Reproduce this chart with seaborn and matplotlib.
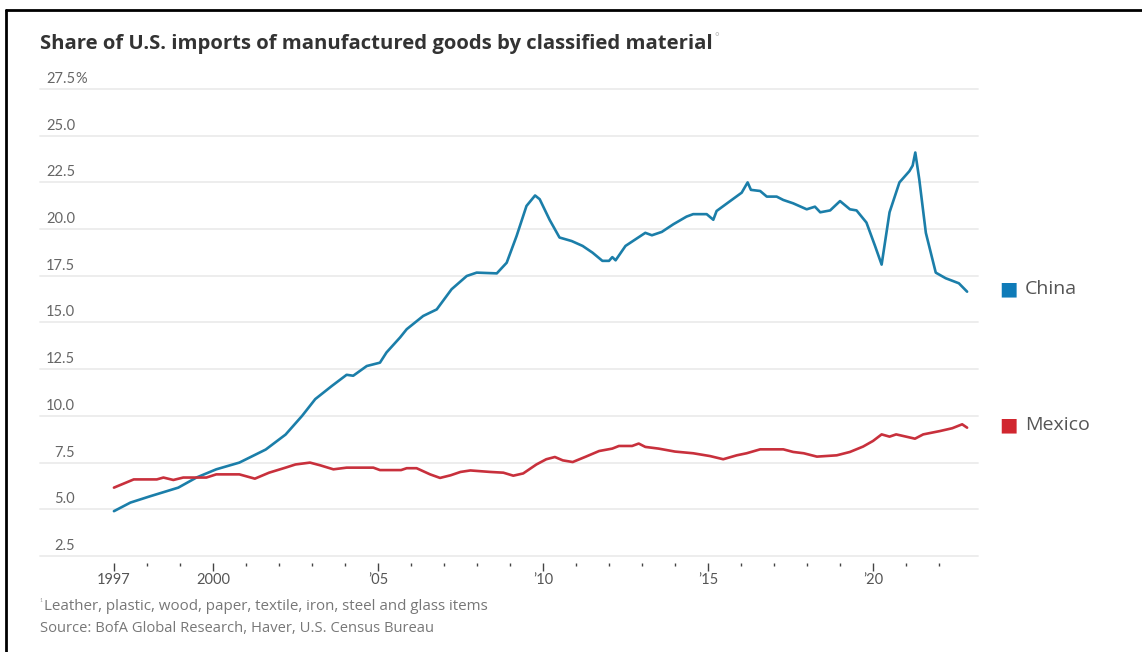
import numpy as np
import pandas as pd
import matplotlib
matplotlib.use("Agg")
import matplotlib.pyplot as plt
import matplotlib.transforms as mtransforms
from matplotlib.lines import Line2D
import seaborn as sns

# ---------------- data ----------------
china_year = [1997.0, 1997.5, 1998.1, 1998.95, 1999.5, 2000.1, 2000.8, 2001.6, 2002.2, 2002.7,
              2003.1, 2003.6, 2004.05, 2004.25, 2004.66, 2005.06, 2005.26, 2005.67, 2005.87, 2006.37,
              2006.78, 2007.23, 2007.69, 2007.99, 2008.6, 2008.9, 2009.2, 2009.5, 2009.76, 2009.9,
              2010.2, 2010.5, 2010.87, 2011.2, 2011.5, 2011.8, 2012.0, 2012.1, 2012.2, 2012.5,
              2012.8, 2013.1, 2013.3, 2013.6, 2013.95, 2014.35, 2014.55, 2014.96, 2015.16, 2015.26,
              2015.67, 2016.02, 2016.2, 2016.3, 2016.58, 2016.78, 2017.08, 2017.28, 2017.58, 2017.99,
              2018.24, 2018.4, 2018.7, 2019.0, 2019.3, 2019.5, 2019.8, 2020.06, 2020.26, 2020.5,
              2020.8, 2021.1, 2021.2, 2021.28, 2021.4, 2021.6, 2021.9, 2022.2, 2022.6, 2022.85]
china_share = [4.9, 5.36, 5.7, 6.16, 6.7, 7.14, 7.5, 8.2, 9.0, 10.0,
               10.9, 11.6, 12.2, 12.15, 12.67, 12.85, 13.4, 14.2, 14.64, 15.35,
               15.7, 16.78, 17.49, 17.67, 17.63, 18.2, 19.63, 21.24, 21.8, 21.6,
               20.5, 19.55, 19.36, 19.1, 18.74, 18.3, 18.3, 18.5, 18.33, 19.1,
               19.45, 19.8, 19.67, 19.85, 20.26, 20.67, 20.8, 20.8, 20.5, 20.97,
               21.5, 21.95, 22.5, 22.1, 22.04, 21.74, 21.74, 21.56, 21.38, 21.06,
               21.2, 20.9, 21.0, 21.5, 21.06, 21.0, 20.35, 19.1, 18.1, 20.9,
               22.5, 23.1, 23.4, 24.1, 22.67, 19.8, 17.67, 17.37, 17.1, 16.65]

mexico_year = [1997.0, 1997.6, 1998.3, 1998.5, 1998.8, 1999.1, 1999.8, 2000.1, 2000.8, 2001.27,
               2001.7, 2002.2, 2002.5, 2002.94, 2003.24, 2003.65, 2004.05, 2004.86, 2005.06, 2005.7,
               2005.87, 2006.17, 2006.58, 2006.88, 2007.2, 2007.5, 2007.8, 2008.4, 2008.8, 2009.1,
               2009.4, 2009.8, 2010.1, 2010.36, 2010.6, 2010.9, 2011.3, 2011.7, 2012.1, 2012.3,
               2012.7, 2012.9, 2013.1, 2013.5, 2014.0, 2014.55, 2015.06, 2015.46, 2015.87, 2016.17,
               2016.58, 2017.28, 2017.58, 2017.9, 2018.3, 2018.9, 2019.3, 2019.7, 2020.0, 2020.26,
               2020.5, 2020.7, 2021.0, 2021.27, 2021.52, 2022.03, 2022.4, 2022.7, 2022.85]
mexico_share = [6.16, 6.6, 6.6, 6.7, 6.57, 6.7, 6.7, 6.87, 6.87, 6.64,
                6.96, 7.23, 7.4, 7.5, 7.36, 7.14, 7.23, 7.23, 7.1, 7.1,
                7.2, 7.2, 6.87, 6.68, 6.82, 7.0, 7.08, 7.0, 6.96, 6.8,
                6.92, 7.4, 7.68, 7.8, 7.62, 7.53, 7.82, 8.12, 8.25, 8.39,
                8.39, 8.52, 8.34, 8.25, 8.09, 8.0, 7.85, 7.68, 7.89, 8.0,
                8.21, 8.21, 8.07, 8.0, 7.82, 7.89, 8.07, 8.36, 8.66, 9.01,
                8.89, 9.01, 8.89, 8.78, 9.01, 9.19, 9.34, 9.55, 9.37]

series_names = ["China", "Mexico"]
series_colors = ["#1b7ea9", "#c8303c"]
legend_square_colors = ["#0f7bb8", "#d1262f"]

y_ticks = [2.5, 5.0, 7.5, 10.0, 12.5, 15.0, 17.5, 20.0, 22.5, 25.0, 27.5]
y_tick_labels = ["2.5", "5.0", "7.5", "10.0", "12.5", "15.0", "17.5", "20.0", "22.5", "25.0", "27.5"]
x_major_ticks = [1997, 2000, 2005, 2010, 2015, 2020]
x_major_labels = ["1997", "2000", "\u201905", "\u201910", "\u201915", "\u201920"]
x_minor_ticks = list(range(1997, 2023))

title = "Share of U.S. imports of manufactured goods by classified material"
footnote = "Leather, plastic, wood, paper, textile, iron, steel and glass items"
source = "Source: BofA Global Research, Haver, U.S. Census Bureau"

# ---------------- figure ----------------
sns.set_theme(style="white")
plt.rcParams["font.family"] = ["Lato", "DejaVu Sans"]

W, H = 1142, 652
fig = plt.figure(figsize=(W / 100, H / 100), dpi=100)
fig.patch.set_facecolor("white")

def px(x):
    return x / W

def py(y):
    return 1 - y / H

ax_left, ax_right, ax_top, ax_bottom = 40, 978, 89, 556
ax = fig.add_axes([px(ax_left), py(ax_bottom), px(ax_right - ax_left), (ax_bottom - ax_top) / H])
ax.set_facecolor("white")

df = pd.concat([
    pd.DataFrame({"year": china_year, "share": china_share, "country": series_names[0]}),
    pd.DataFrame({"year": mexico_year, "share": mexico_share, "country": series_names[1]}),
])

sns.lineplot(data=df, x="year", y="share", hue="country", hue_order=series_names,
             palette=dict(zip(series_names, series_colors)), linewidth=1.9,
             legend=False, ax=ax, zorder=3)

ax.set_xlim(1994.76, 2023.18)
ax.set_ylim(2.5, 27.5)
ax.set_xlabel("")
ax.set_ylabel("")

# gridlines
ax.set_yticks(y_ticks)
ax.yaxis.grid(True, color="#ececec", linewidth=1.3, zorder=0)
ax.xaxis.grid(False)
ax.tick_params(axis="y", length=0, labelleft=False)
for gl in ax.get_ygridlines():
    gl.set_clip_on(False)

for s in ax.spines.values():
    s.set_visible(False)
ax.spines["bottom"].set_position(("outward", 5))

# x ticks
ax.set_xticks(x_major_ticks)
ax.set_xticklabels(x_major_labels)
ax.set_xticks(x_minor_ticks, minor=True)
ax.tick_params(axis="x", which="major", direction="out", length=6, width=1.0,
               color="#444444", labelsize=10.5, labelcolor="#555555", pad=1.5, bottom=True)
ax.tick_params(axis="x", which="minor", direction="out", length=2.5, width=1.0,
               color="#444444", bottom=True)

# y labels sitting above gridlines, right aligned
ytrans = mtransforms.blended_transform_factory(fig.transFigure, ax.transData)
offset = mtransforms.ScaledTranslation(0, 3 / 100, fig.dpi_scale_trans)
for v, lab in zip(y_ticks, y_tick_labels):
    ax.text(px(75), v, lab, transform=ytrans + offset, ha="right", va="bottom",
            fontsize=10.5, color="#666666")
    if v == y_ticks[-1]:
        ax.text(px(75), v, "%", transform=ytrans + offset, ha="left", va="bottom",
                fontsize=10.5, color="#666666")

# legend (label squares to the right of the plot)
legend_y = [289, 425]
for name, col, yy in zip(series_names, legend_square_colors, legend_y):
    fig.text(px(999), py(yy), "\u25A0", color=col, fontsize=14, ha="left", va="center",
             family="DejaVu Sans")
    fig.text(px(1025), py(yy), name, color="#555555", fontsize=14, ha="left", va="center",
             family=["Open Sans", "DejaVu Sans"])

# title
t = fig.text(px(40), py(44), title, fontsize=14.6, fontweight="bold", color="#333333",
             ha="left", va="center", family=["Open Sans", "DejaVu Sans"])
fig.canvas.draw()
bb = t.get_window_extent()
fig.text(bb.x1 / W + px(2), py(38), "\u00b0", fontsize=8, color="#bbbbbb", ha="left", va="center")

# footnotes
foot_font = ["Open Sans", "DejaVu Sans"]
fig.text(px(40), py(603), "\u00b9", fontsize=6.5, color="#aaaaaa", ha="left", va="center")
fig.text(px(44), py(607), footnote, fontsize=10.9, color="#777777", ha="left", va="center",
         family=foot_font)
fig.text(px(40), py(629), source, fontsize=10.6, color="#777777", ha="left", va="center",
         family=foot_font)

# frame lines (left and top)
fig.add_artist(Line2D([px(6), px(6)], [py(10), 0], color="black", linewidth=2,
                      transform=fig.transFigure))
fig.add_artist(Line2D([px(6), 1], [py(10), py(10)], color="black", linewidth=2,
                      transform=fig.transFigure))

fig.savefig("out.png", dpi=100, facecolor="white")
